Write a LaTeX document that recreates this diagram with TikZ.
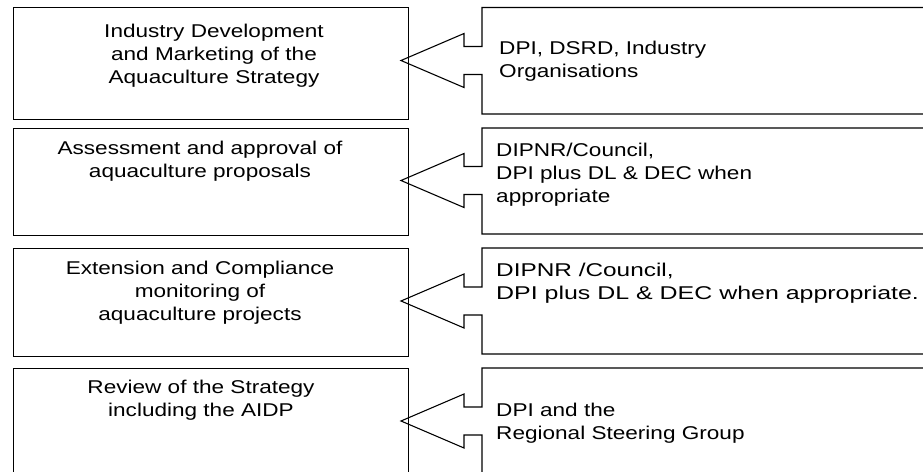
\documentclass[tikz,border=0pt]{standalone}
\usepackage{fontspec}
\usepackage{graphicx}
\setmainfont[FakeStretch=1.22]{Liberation Sans}
\begin{document}
\begin{tikzpicture}[x=1pt,y=-1pt,
  lbox/.style={draw, line width=1.1pt, inner sep=0pt, anchor=north west},
  outline/.style={draw, line width=1.1pt, line join=miter},
  txt/.style={font=\fontsize{18.5}{23}\selectfont, inner sep=0pt}]
\useasboundingbox (0,0) rectangle (923,471);
\clip (0,0) rectangle (923,471);
% left boxes
\node[lbox, minimum width=395pt, minimum height=112pt] (L1) at (13,7) {};
\node[lbox, minimum width=395pt, minimum height=107pt] (L2) at (13,128) {};
\node[lbox, minimum width=395pt, minimum height=108pt] (L3) at (13,248) {};
\node[lbox, minimum width=395pt, minimum height=112pt] (L4) at (13,368) {};
% right boxes with merged block arrows
\foreach \t/\b/\c/\n in {7.5/114/60.5/1, 128/234/180.5/2, 248/354/301/3, 368/480/421/4}{
  \coordinate (tip\n) at (401,\c);
  \draw[outline] (940,\t) -- (482,\t) -- (482,\c-14) -- (464,\c-14) -- (464,\c-27)
    -- (tip\n) -- (464,\c+27) -- (464,\c+14) -- (482,\c+14) -- (482,\b) -- (940,\b);
}
% left texts
\node[txt, align=center] (t1) at (214,56) {Industry Development\\and Marketing of the\\Aquaculture Strategy};
\node[txt, align=center] (t2) at (200,161.5) {Assessment and approval of\\aquaculture proposals};
\node[txt, align=center] (t3) at (200,293) {Extension and Compliance\\monitoring of\\aquaculture projects};
\node[txt, align=center] (t4) at (201,400.5) {Review of the Strategy\\including the AIDP};
% right texts
\node[txt, align=left, anchor=west] (r1) at (499,61.5) {DPI, DSRD, Industry\\Organisations};
\node[txt, align=left, anchor=west] (r2) at (496,175) {DIPNR/Council,\\DPI plus DL \& DEC when\\appropriate};
\node[txt, align=left, anchor=west] (r3) at (496,283.5) {\scalebox{1.08}[1]{DIPNR /Council,}\\\scalebox{1.105}[1]{DPI plus DL \& DEC when appropriate.}};
\node[txt, align=left, anchor=west] (r4) at (496,423.5) {DPI and the\\Regional Steering Group};
\end{tikzpicture}
\end{document}
